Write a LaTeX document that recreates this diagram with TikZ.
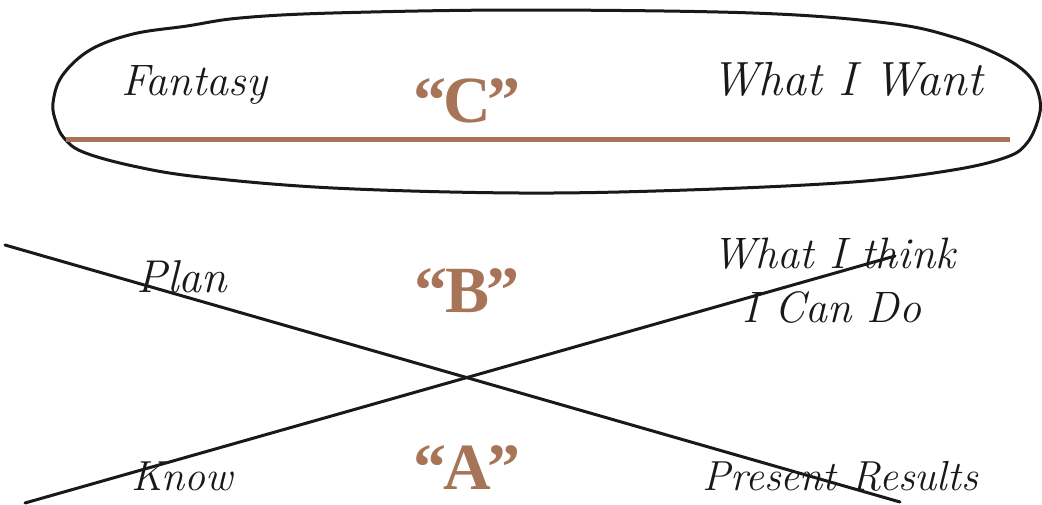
\documentclass[tikz,border=0pt]{standalone}
\usepackage{fontspec}
\newfontfamily\letterfont{Liberation Serif}
\begin{document}
\begin{tikzpicture}[x=1pt,y=-1pt,
  script/.style={font=\fontsize{#1}{#1}\selectfont\itshape, text=black!90, inner sep=0pt, anchor=base},
  script/.default=44,
  letter/.style={font=\fontsize{66}{66}\selectfont\letterfont\bfseries, text=brown1, inner sep=0pt, anchor=base},
  ink/.style={draw=black!90, line width=3pt, line cap=round}]
\definecolor{brown1}{HTML}{A87458}
\useasboundingbox (0,0) rectangle (1042,504);
% outline
\draw[black!90, line width=3pt] plot[smooth cycle, tension=0.6] coordinates {
 (53,103) (62,76) (90,50) (133,34) (187,26) (240,18) (333,13) (520,10)
 (753,13) (887,23) (953,37) (1003,57) (1030,77) (1040,100) (1038,120) (1027,143)
 (1007,157) (953,170) (853,182) (687,190) (520,193) (333,188) (200,177) (133,166)
 (83,152) (64,138) (56,122)};
\coordinate (cl) at (66,139);
\coordinate (cr) at (1010,139);
\draw[brown1, line width=5pt] (cl) -- (cr);
% crossing lines
\coordinate (l1a) at (5,245);
\coordinate (l1b) at (900,502);
\coordinate (l2a) at (25,503);
\coordinate (l2b) at (895,256);
\draw[ink] (l1a) -- (l1b);
\draw[ink] (l2a) -- (l2b);
% texts
\node[script=44] (fantasy) at (194,95) {Fantasy};
\node[script=48] (want) at (847,95) {What I Want};
\node[script=46] (plan) at (182,292) {Plan};
\node[script=44] (think) at (834,268) {What I think};
\node[script=44] (cando) at (832,322) {I Can Do};
\node[script=42] (know) at (182,490) {Know};
\node[script=42] (present) at (840,490) {Present Results};
\node[letter] (C) at (467,122) {“\kern-3pt C\kern-3pt ”};
\node[letter] (B) at (467,312) {“\kern-3pt B\kern-3pt ”};
\node[letter] (A) at (467,489) {“\kern-3pt A\kern-3pt ”};
\end{tikzpicture}
\end{document}
